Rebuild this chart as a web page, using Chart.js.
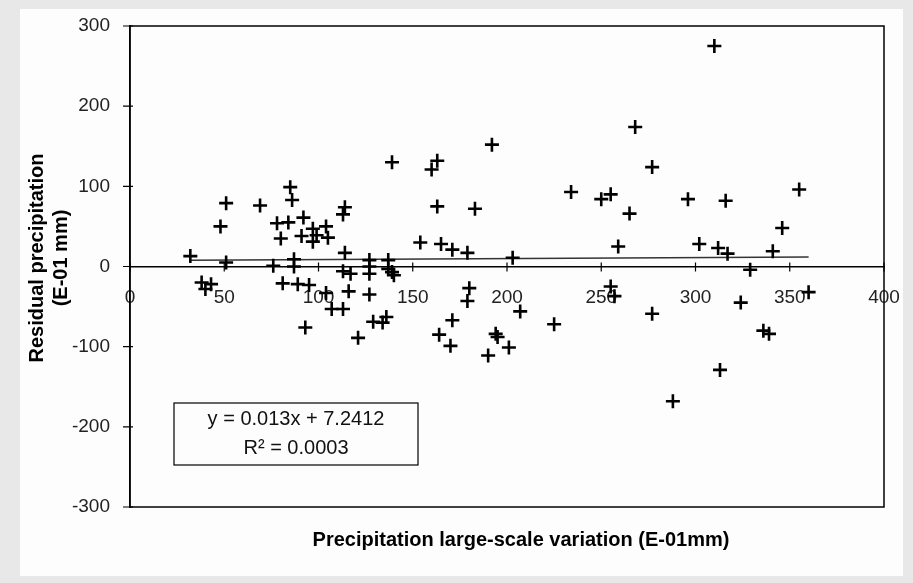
<!DOCTYPE html>
<html>
<head>
<meta charset="utf-8">
<script src="https://cdn.jsdelivr.net/npm/chart.js@4.4.0/dist/chart.umd.min.js"></script>
<style>
  html, body { margin: 0; padding: 0; background: #ffffff; }
  #wrap { width: 913px; height: 583px; }
</style>
</head>
<body>
<div id="wrap"><canvas id="chart" width="913" height="583"></canvas></div>
<script>
// values
const xValues = [32, 38, 40, 43, 48, 51, 51, 69, 76, 78, 80, 81, 84, 85, 86, 87, 87, 89, 92, 91,
    93, 95, 97, 97, 99, 104, 105, 104, 107, 113, 113, 114, 114, 113, 117, 116, 121, 127, 127, 127,
    127, 129, 134, 136, 137, 137, 139, 140, 139, 154, 160, 163, 163, 165, 164, 171, 171, 170, 179, 180,
    179, 183, 192, 190, 194, 195, 203, 201, 207, 225, 234, 250, 255, 255, 257, 259, 265, 268, 277, 277,
    288, 296, 302, 310, 312, 316, 313, 317, 329, 324, 336, 339, 341, 346, 355, 360];
const yValues = [13, -20, -28, -22, 50, 79, 5, 76, 1, 54, 35, -21, 55, 99, 83, 9, 0, -22, 61, 38,
    -76, -23, 47, 31, 39, 50, 36, -33, -53, -53, 65, 74, 17, -6, -9, -31, -89, 8, 0, -9,
    -35, -69, -70, -63, 8, -3, -7, -11, 130, 30, 121, 132, 75, 28, -85, 21, -67, -99, 17, -27,
    -43, 72, 152, -111, -84, -88, 11, -101, -56, -72, 93, 84, 90, -25, -37, 25, 66, 174, 124, -59,
    -168, 84, 28, 275, 23, 82, -129, 16, -4, -45, -80, -84, 19, 48, 96, -32];

const xTicks = [0, 50, 100, 150, 200, 250, 300, 350, 400];
const yTicks = [-300, -200, -100, 0, 100, 200, 300];

const trendSlope = 0.013;
const trendIntercept = 7.2412;
const equationLines = ['y = 0.013x + 7.2412', 'R² = 0.0003'];

const xTitle = 'Precipitation large-scale variation (E-01mm)';
const yTitle = ['Residual precipitation', '(E-01 mm)'];

const points = xValues.map((x, i) => ({ x: x, y: yValues[i] }));
const xMin = Math.min(...xValues);
const xMax = Math.max(...xValues);
const trendPoints = [
    { x: xMin, y: trendSlope * xMin + trendIntercept },
    { x: xMax, y: trendSlope * xMax + trendIntercept }
];

const tickFont = { family: "'Liberation Sans', Arial, sans-serif", size: 19 };

const framePlugin = {
    id: 'frame',
    beforeDraw(chart) {
        const ctx = chart.ctx;
        ctx.save();
        ctx.fillStyle = '#e8e8e8';
        ctx.fillRect(0, 0, chart.width, chart.height);
        ctx.fillStyle = '#fdfdfd';
        ctx.fillRect(20, 9, 883, 567);
        ctx.restore();
    },
    afterDraw(chart) {
        const ctx = chart.ctx;
        const area = chart.chartArea;
        const xs = chart.scales.x;
        const ys = chart.scales.y;
        const zero = ys.getPixelForValue(0);
        ctx.save();
        ctx.strokeStyle = '#000';
        ctx.lineWidth = 1.5;
        ctx.strokeRect(area.left, area.top, area.right - area.left, area.bottom - area.top);

        // tick marks
        ctx.beginPath();
        yTicks.forEach(v => {
            const py = ys.getPixelForValue(v);
            ctx.moveTo(area.left - 7, py);
            ctx.lineTo(area.left + 3, py);
        });
        xTicks.forEach(v => {
            const px = xs.getPixelForValue(v);
            ctx.moveTo(px, zero - 4);
            ctx.lineTo(px, zero + 5);
        });
        ctx.lineWidth = 1.2;
        ctx.stroke();

        // axis titles
        ctx.fillStyle = '#000';
        ctx.font = "bold 20px 'Liberation Sans', Arial, sans-serif";
        ctx.textAlign = 'center';
        ctx.textBaseline = 'middle';
        ctx.fillText(xTitle, 521, 540);
        ctx.save();
        ctx.translate(37, 258);
        ctx.rotate(-Math.PI / 2);
        ctx.fillText(yTitle[0], 0, 0);
        ctx.fillText(yTitle[1], 0, 24);
        ctx.restore();

        // equation box
        ctx.fillStyle = '#fdfdfd';
        ctx.fillRect(174, 403, 244, 62);
        ctx.lineWidth = 1.2;
        ctx.strokeRect(174, 403, 244, 62);
        ctx.fillStyle = '#111';
        ctx.font = "20px 'Liberation Sans', Arial, sans-serif";
        ctx.fillText(equationLines[0], 296, 419);
        ctx.fillText(equationLines[1], 296, 448);
        ctx.restore();
    }
};

new Chart(document.getElementById('chart'), {
    type: 'scatter',
    data: {
        datasets: [
            {
                label: 'Residual',
                data: points,
                pointStyle: 'cross',
                pointRadius: 7,
                pointBorderWidth: 2.6,
                borderColor: '#000',
                backgroundColor: '#000',
                showLine: false
            },
            {
                type: 'line',
                label: 'Trend',
                data: trendPoints,
                borderColor: '#333',
                borderWidth: 1.5,
                pointRadius: 0,
                fill: false
            }
        ]
    },
    options: {
        responsive: false,
        animation: false,
        devicePixelRatio: 1,
        layout: { padding: { left: 0, right: 29, top: 26, bottom: 76 } },
        plugins: {
            legend: { display: false },
            tooltip: { enabled: false }
        },
        scales: {
            x: {
                type: 'linear',
                position: { y: 0 },
                min: 0,
                max: 400,
                afterBuildTicks: (scale) => { scale.ticks = xTicks.map(v => ({ value: v })); },
                ticks: { font: tickFont, color: '#222', padding: 12, maxRotation: 0 },
                grid: { display: false },
                border: { display: true, color: '#000', width: 1.5 }
            },
            y: {
                type: 'linear',
                min: -300,
                max: 300,
                afterBuildTicks: (scale) => { scale.ticks = yTicks.map(v => ({ value: v })); },
                afterFit: (scale) => { scale.width = 130; },
                ticks: { font: tickFont, color: '#222', padding: 12 },
                grid: { display: false },
                border: { display: true, color: '#000', width: 1.5 }
            }
        }
    },
    plugins: [framePlugin]
});
</script>
</body>
</html>
